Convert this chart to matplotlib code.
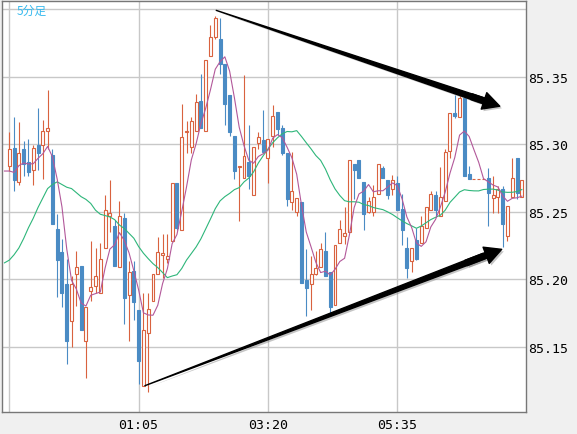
import numpy as np
import pandas as pd
import matplotlib

matplotlib.use("Agg")

import matplotlib.pyplot as plt
from matplotlib import patheffects

# 5-minute candles, 22:50 onwards
opens = [85.284, 85.297, 85.272, 85.296, 85.287, 85.281, 85.299, 85.299, 85.310, 85.292,
         85.237, 85.220, 85.196, 85.169, 85.204, 85.210, 85.154, 85.191, 85.195, 85.190,
         85.223, 85.247, 85.239, 85.209, 85.245, 85.188, 85.206, 85.177, 85.121, 85.160,
         85.184, 85.204, 85.218, 85.215, 85.228, 85.271, 85.236, 85.309, 85.298, 85.310,
         85.332, 85.310, 85.365, 85.379, 85.378, 85.359, 85.336, 85.306, 85.283, 85.275,
         85.287, 85.262, 85.301, 85.303, 85.290, 85.306, 85.324, 85.312, 85.293, 85.257,
         85.250, 85.257, 85.199, 85.196, 85.204, 85.209, 85.221, 85.205, 85.181, 85.227,
         85.232, 85.235, 85.285, 85.288, 85.272, 85.250, 85.250, 85.263, 85.282, 85.273,
         85.267, 85.271, 85.252, 85.223, 85.213, 85.229, 85.227, 85.238, 85.251, 85.262,
         85.247, 85.258, 85.295, 85.323, 85.320, 85.334, 85.278, 85.274, 85.274, 85.274,
         85.275, 85.260, 85.261, 85.267, 85.232, 85.261, 85.290, 85.261]
highs = [85.309, 85.320, 85.316, 85.302, 85.304, 85.299, 85.327, 85.318, 85.340, 85.296,
         85.248, 85.230, 85.215, 85.202, 85.221, 85.210, 85.179, 85.228, 85.223, 85.227,
         85.262, 85.273, 85.244, 85.258, 85.249, 85.213, 85.213, 85.177, 85.190, 85.190,
         85.204, 85.231, 85.233, 85.233, 85.271, 85.271, 85.330, 85.317, 85.320, 85.337,
         85.352, 85.362, 85.388, 85.395, 85.393, 85.359, 85.336, 85.306, 85.284, 85.351,
         85.314, 85.298, 85.309, 85.325, 85.304, 85.329, 85.324, 85.314, 85.293, 85.294,
         85.260, 85.257, 85.222, 85.217, 85.221, 85.227, 85.235, 85.205, 85.225, 85.244,
         85.253, 85.288, 85.285, 85.288, 85.272, 85.261, 85.270, 85.285, 85.284, 85.273,
         85.277, 85.276, 85.263, 85.231, 85.223, 85.238, 85.247, 85.253, 85.265, 85.265,
         85.283, 85.296, 85.323, 85.336, 85.337, 85.334, 85.284, 85.274, 85.274, 85.274,
         85.282, 85.276, 85.269, 85.269, 85.254, 85.290, 85.290, 85.273]
lows = [85.280, 85.265, 85.270, 85.276, 85.276, 85.270, 85.281, 85.274, 85.296, 85.241,
        85.187, 85.179, 85.137, 85.150, 85.180, 85.162, 85.127, 85.184, 85.190, 85.190,
        85.223, 85.235, 85.210, 85.209, 85.167, 85.154, 85.170, 85.122, 85.121, 85.116,
        85.184, 85.204, 85.201, 85.212, 85.228, 85.236, 85.236, 85.293, 85.293, 85.310,
        85.312, 85.310, 85.365, 85.378, 85.352, 85.314, 85.306, 85.274, 85.243, 85.275,
        85.267, 85.262, 85.296, 85.294, 85.271, 85.298, 85.307, 85.292, 85.254, 85.251,
        85.247, 85.197, 85.173, 85.177, 85.203, 85.209, 85.202, 85.175, 85.181, 85.227,
        85.226, 85.235, 85.259, 85.275, 85.236, 85.249, 85.247, 85.263, 85.275, 85.259,
        85.262, 85.251, 85.225, 85.201, 85.205, 85.214, 85.227, 85.238, 85.251, 85.247,
        85.247, 85.258, 85.290, 85.319, 85.320, 85.276, 85.274, 85.274, 85.274, 85.274,
        85.239, 85.249, 85.249, 85.224, 85.228, 85.261, 85.259, 85.261]
closes = [85.296, 85.273, 85.293, 85.285, 85.279, 85.297, 85.293, 85.310, 85.312, 85.241,
          85.214, 85.190, 85.154, 85.196, 85.209, 85.162, 85.179, 85.194, 85.202, 85.215,
          85.251, 85.249, 85.210, 85.247, 85.186, 85.205, 85.183, 85.139, 85.162, 85.178,
          85.204, 85.220, 85.219, 85.217, 85.271, 85.238, 85.305, 85.310, 85.317, 85.331,
          85.312, 85.362, 85.379, 85.393, 85.359, 85.330, 85.309, 85.280, 85.284, 85.291,
          85.276, 85.298, 85.305, 85.294, 85.304, 85.321, 85.311, 85.293, 85.259, 85.265,
          85.260, 85.197, 85.193, 85.204, 85.208, 85.222, 85.202, 85.179, 85.225, 85.237,
          85.234, 85.288, 85.281, 85.275, 85.248, 85.258, 85.261, 85.285, 85.275, 85.262,
          85.273, 85.251, 85.236, 85.208, 85.223, 85.215, 85.239, 85.253, 85.263, 85.251,
          85.261, 85.294, 85.323, 85.321, 85.334, 85.276, 85.274, 85.274, 85.274, 85.274,
          85.264, 85.262, 85.267, 85.241, 85.254, 85.275, 85.264, 85.273]

# moving averages before enough candles are on screen (from index -1)
ma_short_head = [85.280, 85.280, 85.279, 85.284, 85.286]
ma_long_head = [85.212, 85.214, 85.218, 85.223, 85.230, 85.238, 85.245, 85.253, 85.260,
                85.267, 85.270, 85.272, 85.270, 85.268, 85.267, 85.264, 85.261, 85.259,
                85.256, 85.251, 85.248, 85.247, 85.246, 85.244, 85.240]

tick_index = [0, 27, 54, 81]
tick_labels = ["", "01:05", "03:20", "05:35"]
price_ticks = [85.15, 85.20, 85.25, 85.30, 85.35, 85.40]
price_labels = ["85.15", "85.20", "85.25", "85.30", "85.35", ""]

# trend arrows (candle index, price)
upper_arrow = [(43.2, 85.399), (102.4, 85.328)]
lower_arrow = [(28.3, 85.121), (102.8, 85.222)]

UP = "#d9623f"
DOWN = "#4a8bc4"

n = len(closes)
x = np.arange(n)
o = np.array(opens)
c = np.array(closes)
up = c >= o

fig = plt.figure(figsize=(5.77, 4.35), dpi=100, facecolor="#f0f0f0")
ax = fig.add_axes([2 / 577, 1 - 412.5 / 435, 524 / 577, 411 / 435])
ax.set_facecolor("white")

colors = np.where(up, UP, DOWN)
ax.vlines(x, lows, highs, colors=colors, linewidth=0.8, zorder=2)
ax.bar(x, c - o, bottom=o, width=0.62, color=np.where(up, "white", DOWN),
       edgecolor=colors, linewidth=0.8, zorder=3)

# moving averages
close_s = pd.Series(closes)
ma_short = np.concatenate([ma_short_head, close_s.rolling(5).mean().values[4:]])
ma_long = np.concatenate([ma_long_head, close_s.rolling(25).mean().values[24:]])
ax.plot(np.arange(-1, n), ma_long, color="#2eb67a", linewidth=0.8, zorder=4)
ax.plot(np.arange(-1, n), ma_short, color="#b2589a", linewidth=0.8, zorder=4)

shadow = [patheffects.SimplePatchShadow(offset=(1.5, -1.5), shadow_rgbFace="gray", alpha=0.45),
          patheffects.Normal()]
for (x0, y0), (x1, y1) in [upper_arrow, lower_arrow]:
    # tapered shaft: thin at the start, wide near the head
    bx, by = x0 + 0.95 * (x1 - x0), y0 + 0.95 * (y1 - y0)
    hx, hy = x0 + 0.9 * (x1 - x0), y0 + 0.9 * (y1 - y0)
    shaft = ax.annotate("", xy=(x0, y0), xytext=(bx, by),
                        arrowprops=dict(arrowstyle="wedge,tail_width=0.42,shrink_factor=0.5",
                                        color="black", shrinkA=0, shrinkB=0,
                                        mutation_scale=10), zorder=6)
    head = ax.annotate("", xy=(x1, y1), xytext=(hx, hy),
                       arrowprops=dict(arrowstyle="simple,head_length=1.2,head_width=1.25,tail_width=0.42",
                                       color="black", shrinkA=0, shrinkB=0,
                                       mutation_scale=10), zorder=6)
    shaft.arrow_patch.set_path_effects(shadow)
    head.arrow_patch.set_path_effects(shadow)

ax.set_xlim(-1.52, 107.87)
ax.set_ylim(85.1019, 85.4063)

ax.set_xticks(tick_index)
ax.set_xticklabels(tick_labels)
ax.yaxis.tick_right()
ax.set_yticks(price_ticks)
ax.set_yticklabels(price_labels)
ax.tick_params(length=0, labelsize=9.5, labelcolor="black")
ax.tick_params(axis="x", pad=5)
ax.tick_params(axis="y", pad=1.5)
for lab in ax.get_xticklabels() + ax.get_yticklabels():
    lab.set_family("DejaVu Sans Mono")

ax.grid(True, color="#c8c8c8", linewidth=1)
ax.set_axisbelow(True)
for s in ax.spines.values():
    s.set_color("#777777")
    s.set_linewidth(1)

fig.text(17 / 577, 1 - 4.5 / 435, "5分足", color="#36b9ee", fontsize=8.5, va="top", ha="left",
         family=["Noto Sans CJK JP", "DejaVu Sans"])

fig.savefig("out.png", dpi=100, facecolor=fig.get_facecolor())
